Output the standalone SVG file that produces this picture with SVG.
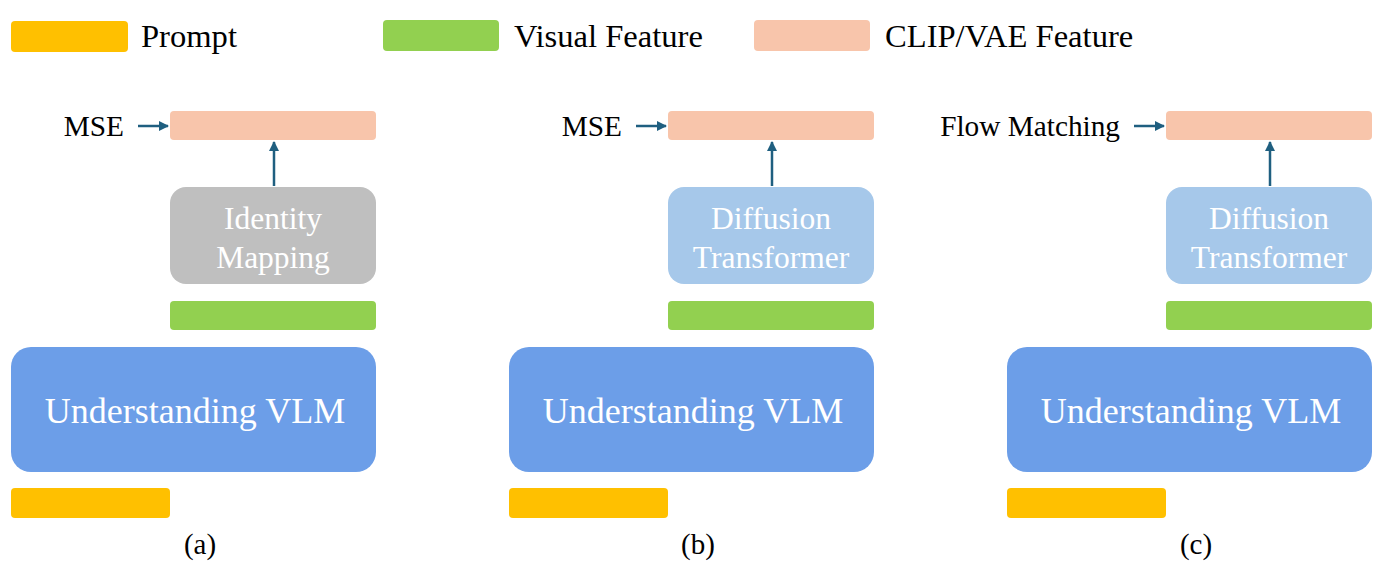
<svg xmlns="http://www.w3.org/2000/svg" width="1386" height="570" viewBox="0 0 1386 570">
<style>
text{font-family:'Liberation Serif','Times New Roman',Times,serif}
.lbl{font-size:32.6px;fill:#000}
.loss{font-size:29.3px;fill:#000;text-anchor:end}
.inner{font-size:31.5px;fill:#fff;text-anchor:middle}
.vlm{font-size:36px;fill:#fff;text-anchor:middle}
.cap{font-size:29px;fill:#000;text-anchor:middle}
.prompt{fill:#FFC000}
.vis{fill:#92D050}
.clip{fill:#F8C5AB}
.idm{fill:#BFBFBF}
.dit{fill:#A6C8EA}
.vlmbox{fill:#6C9EE8}
.conn{stroke:#1F5F80;stroke-width:2.5;fill:none;marker-end:url(#ah)}
</style>
<defs>
<marker id="ah" viewBox="0 0 10 10" refX="9" refY="5" markerWidth="4" markerHeight="4" orient="auto" markerUnits="strokeWidth">
<path d="M0,0 L10,5 L0,10 z" fill="#1F5F80"/>
</marker>
</defs>
<g id="legend">
<rect class="prompt" x="11" y="21" width="117" height="31" rx="4"/>
<text class="lbl" x="141" y="47">Prompt</text>
<rect class="vis" x="383" y="20" width="116" height="31" rx="4"/>
<text class="lbl" x="514" y="47">Visual Feature</text>
<rect class="clip" x="754" y="20" width="116" height="31" rx="4"/>
<text class="lbl" x="885" y="47">CLIP/VAE Feature</text>
</g>
<g id="panel-a">
<g id="a-target"><rect class="clip" x="170" y="111" width="206" height="29" rx="4"/></g>
<text class="loss" x="124" y="136">MSE</text>
<g id="a-mapper"><rect class="idm" x="170" y="187" width="206" height="97" rx="16"/>
<text class="inner" x="273" y="229">Identity</text><text class="inner" x="273" y="268">Mapping</text></g>
<g id="a-visual"><rect class="vis" x="170" y="301" width="206" height="29" rx="4"/></g>
<g id="a-vlm"><rect class="vlmbox" x="11" y="347" width="365" height="125" rx="20"/>
<text class="vlm" x="195" y="423">Understanding VLM</text></g>
<g id="a-prompt"><rect class="prompt" x="11" y="488" width="159" height="30" rx="4"/></g>
<text class="cap" x="200" y="554">(a)</text>
</g>
<g id="panel-b">
<g id="b-target"><rect class="clip" x="668" y="111" width="206" height="29" rx="4"/></g>
<text class="loss" x="622" y="136">MSE</text>
<g id="b-mapper"><rect class="dit" x="668" y="187" width="206" height="97" rx="16"/>
<text class="inner" x="771" y="229">Diffusion</text><text class="inner" x="771" y="268">Transformer</text></g>
<g id="b-visual"><rect class="vis" x="668" y="301" width="206" height="29" rx="4"/></g>
<g id="b-vlm"><rect class="vlmbox" x="509" y="347" width="365" height="125" rx="20"/>
<text class="vlm" x="693" y="423">Understanding VLM</text></g>
<g id="b-prompt"><rect class="prompt" x="509" y="488" width="159" height="30" rx="4"/></g>
<text class="cap" x="698" y="554">(b)</text>
</g>
<g id="panel-c">
<g id="c-target"><rect class="clip" x="1166" y="111" width="206" height="29" rx="4"/></g>
<text class="loss" x="1120" y="136">Flow Matching</text>
<g id="c-mapper"><rect class="dit" x="1166" y="187" width="206" height="97" rx="16"/>
<text class="inner" x="1269" y="229">Diffusion</text><text class="inner" x="1269" y="268">Transformer</text></g>
<g id="c-visual"><rect class="vis" x="1166" y="301" width="206" height="29" rx="4"/></g>
<g id="c-vlm"><rect class="vlmbox" x="1007" y="347" width="365" height="125" rx="20"/>
<text class="vlm" x="1191" y="423">Understanding VLM</text></g>
<g id="c-prompt"><rect class="prompt" x="1007" y="488" width="159" height="30" rx="4"/></g>
<text class="cap" x="1196" y="554">(c)</text>
</g>
<g id="connectors">
<line class="conn" x1="138" y1="126" x2="168" y2="126"/>
<line class="conn" x1="274" y1="186" x2="274" y2="142"/>
<line class="conn" x1="636" y1="126" x2="666" y2="126"/>
<line class="conn" x1="772" y1="186" x2="772" y2="142"/>
<line class="conn" x1="1134" y1="126" x2="1164" y2="126"/>
<line class="conn" x1="1270" y1="186" x2="1270" y2="142"/>
</g>
</svg>
